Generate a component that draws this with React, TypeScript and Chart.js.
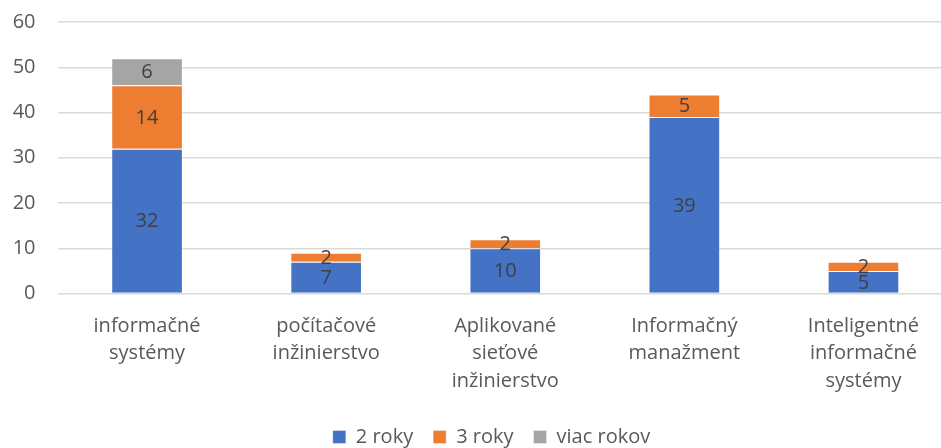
import React, { useEffect, useRef } from "react";
import { Chart, registerables } from "chart.js";

Chart.register(...registerables);

const categories: string[][] = [
  ["informačné", "systémy"],
  ["počítačové", "inžinierstvo"],
  ["Aplikované", "sieťové", "inžinierstvo"],
  ["Informačný", "manažment"],
  ["Inteligentné", "informačné", "systémy"],
];
const series2Roky: (number | null)[] = [32, 7, 10, 39, 5];
const series3Roky: (number | null)[] = [14, 2, 2, 5, 2];
const seriesViac: (number | null)[] = [6, null, null, null, null];
const yTicks = [0, 10, 20, 30, 40, 50, 60];

const FONT = "'Open Sans', Lato, sans-serif";

const labelPlugin = {
  id: "segLabels",
  afterLayout(chart: any) {
    if (chart.legend) {
      chart.legend.left += 15;
      chart.legend.right += 15;
    }
  },
  afterDatasetsDraw(chart: any) {
    const ctx = chart.ctx;
    ctx.save();
    ctx.font = `20px ${FONT}`;
    ctx.fillStyle = "#404040";
    ctx.textAlign = "center";
    ctx.textBaseline = "middle";
    chart.data.datasets.forEach((ds: any, di: number) => {
      const meta = chart.getDatasetMeta(di);
      meta.data.forEach((el: any, i: number) => {
        const v = ds.data[i];
        if (v === null || v === undefined) return;
        const p = el.getProps(["x", "y", "base"], true);
        ctx.fillText(String(v), p.x, (p.y + p.base) / 2 + 1);
      });
    });
    ctx.restore();
  },
};

export default function App() {
  const ref = useRef<HTMLCanvasElement>(null);
  useEffect(() => {
    if (!ref.current) return;
    const chart = new Chart(ref.current, {
      type: "bar",
      data: {
        labels: categories,
        datasets: [
          { label: "2 roky", data: series2Roky, backgroundColor: "#4472C4", borderColor: "rgba(255,255,255,0.35)", borderWidth: 1 },
          { label: "3 roky", data: series3Roky, backgroundColor: "#ED7D31", borderColor: "rgba(255,255,255,0.35)", borderWidth: 1 },
          { label: "viac rokov", data: seriesViac, backgroundColor: "#A5A5A5", borderColor: "rgba(255,255,255,0.35)", borderWidth: 1 },
        ],
      },
      options: {
        responsive: false,
        animation: false,
        layout: { padding: { top: 22, left: 0, right: 0, bottom: 0 } },
        datasets: { bar: { categoryPercentage: 0.4, barPercentage: 1 } },
        scales: {
          x: {
            stacked: true,
            afterFit(scale: any) {
              scale.height = 113.5;
              scale.paddingLeft = 0;
              scale.paddingRight = 0;
            },
            grid: { display: false },
            border: { display: false },
            ticks: {
              color: "#595959",
              font: { family: FONT, size: 20, lineHeight: 1.375 },
              padding: 11,
              maxRotation: 0,
              autoSkip: false,
            },
          },
          y: {
            stacked: true,
            min: 0,
            max: 60,
            afterFit(scale: any) {
              scale.width = 57.5;
              scale.paddingTop = 0;
              scale.paddingBottom = 0;
            },
            afterBuildTicks(scale: any) {
              scale.ticks = yTicks.map((v) => ({ value: v }));
            },
            grid: { color: "#d9d9d9", lineWidth: 1.5, drawTicks: false },
            border: { display: false },
            ticks: {
              color: "#595959",
              font: { family: FONT, size: 20 },
              padding: 22,
            },
          },
        },
        plugins: {
          legend: {
            position: "bottom",
            labels: {
              color: "#595959",
              font: { family: FONT, size: 20 },
              boxWidth: 13,
              boxHeight: 13,
              padding: 20,
            },
          },
          tooltip: { enabled: false },
        },
      },
      plugins: [labelPlugin],
    });
    return () => chart.destroy();
  }, []);
  return (
    <div style={{ position: "absolute", left: 0, top: 0, width: 941, height: 448, overflow: "hidden", background: "#fff" }}>
      <canvas ref={ref} width={953} height={457} style={{ display: "block" }} />
    </div>
  );
}
